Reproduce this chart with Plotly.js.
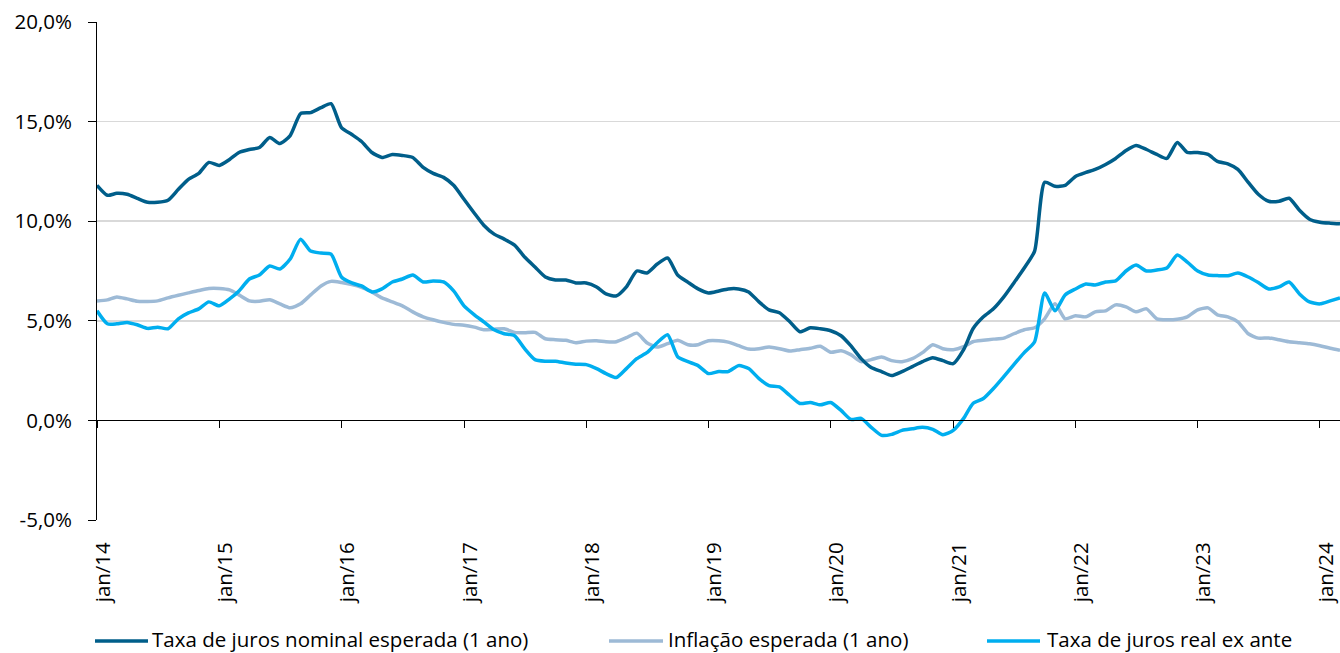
<!DOCTYPE html>
<html>
<head>
<meta charset="utf-8">
<script src="https://cdn.plot.ly/plotly-3.0.1.min.js"></script>
<style>
  html, body { margin: 0; padding: 0; background: #fff; }
  #chart { width: 1340px; height: 653px; }
</style>
</head>
<body>
<div id="chart"></div>
<script>
// ---- data (monthly, jan/14 .. mar/24) ----
const startYear = 2014;
const nMonths = 123;
const months = [];
for (let i = 0; i < nMonths; i++) {
  const y = startYear + Math.floor(i / 12);
  const m = (i % 12) + 1;
  months.push(y + '-' + String(m).padStart(2, '0') + '-01');
}

const seriesNames = [
  'Taxa de juros nominal esperada (1 ano)',
  'Inflação esperada (1 ano)',
  'Taxa de juros real ex ante'
];

const nominal = [
  11.8, 11.3, 11.4, 11.35, 11.15, 10.95, 10.95, 11.05, 11.6, 12.1, 12.4, 12.95,
  12.8, 13.1, 13.45, 13.6, 13.7, 14.2, 13.9, 14.3, 15.4, 15.45, 15.7, 15.9,
  14.7, 14.35, 14.0, 13.45, 13.2, 13.35, 13.3, 13.2, 12.7, 12.4, 12.2, 11.8,
  11.1, 10.4, 9.8, 9.35, 9.1, 8.8, 8.2, 7.7, 7.2, 7.05, 7.05, 6.9,
  6.9, 6.7, 6.35, 6.25, 6.7, 7.5, 7.4, 7.85, 8.15, 7.3, 6.93, 6.6,
  6.4, 6.5, 6.6, 6.6, 6.45, 5.95, 5.55, 5.4, 4.95, 4.45, 4.65, 4.6,
  4.5, 4.25, 3.75, 3.1, 2.65, 2.45, 2.25, 2.45, 2.7, 2.95, 3.15, 3.0,
  2.85, 3.55, 4.6, 5.2, 5.6, 6.2, 6.9, 7.65, 8.5, 11.95, 11.75, 11.8,
  12.25, 12.45, 12.6, 12.85, 13.15, 13.55, 13.8, 13.6, 13.35, 13.15, 13.95, 13.45,
  13.45, 13.35, 13.0, 12.88, 12.6, 11.95, 11.35, 11.0, 11.0, 11.15, 10.55, 10.1,
  9.95, 9.9, 9.87
];

const inflation = [
  6.0, 6.05, 6.2, 6.1, 5.98, 5.97, 6.0, 6.15, 6.28, 6.4, 6.52, 6.62,
  6.62, 6.55, 6.3, 6.0, 5.98, 6.06, 5.85, 5.65, 5.85, 6.3, 6.75, 6.98,
  6.92, 6.82, 6.68, 6.45, 6.15, 5.95, 5.75, 5.45, 5.2, 5.05, 4.92, 4.82,
  4.78, 4.68, 4.55, 4.58, 4.6, 4.42, 4.4, 4.42, 4.1, 4.05, 4.02, 3.9,
  3.98, 4.0, 3.95, 3.95, 4.15, 4.38, 3.9, 3.68, 3.85, 4.02, 3.8, 3.8,
  4.0, 4.0, 3.93, 3.75, 3.58, 3.6, 3.68, 3.6, 3.48, 3.55, 3.62, 3.72,
  3.42, 3.5, 3.3, 2.95, 3.05, 3.18, 3.0, 2.95, 3.1, 3.4, 3.8, 3.6,
  3.55, 3.7, 3.95, 4.02, 4.08, 4.13, 4.35, 4.55, 4.65, 5.1, 5.85, 5.1,
  5.25, 5.2, 5.45, 5.5, 5.8, 5.7, 5.45, 5.6, 5.1, 5.05, 5.08, 5.2,
  5.55, 5.65, 5.3, 5.2, 4.95, 4.35, 4.13, 4.14, 4.05, 3.95, 3.9, 3.85,
  3.75, 3.62, 3.52
];

const realExAnte = [
  5.5, 4.85, 4.85, 4.92, 4.8, 4.62, 4.68, 4.6, 5.1, 5.4, 5.6, 5.95,
  5.75, 6.1, 6.5, 7.1, 7.3, 7.75, 7.6, 8.1, 9.1, 8.5, 8.4, 8.35,
  7.2, 6.9, 6.75, 6.45, 6.6, 6.95, 7.1, 7.3, 6.95, 7.0, 6.95, 6.5,
  5.75, 5.3, 4.95, 4.55, 4.35, 4.25, 3.6, 3.05, 2.97, 2.97, 2.88, 2.82,
  2.8, 2.6, 2.35, 2.15, 2.6, 3.1, 3.4, 3.9, 4.3, 3.2, 2.95, 2.75,
  2.35, 2.45, 2.45, 2.75, 2.6, 2.1, 1.75, 1.68, 1.25, 0.85, 0.9, 0.78,
  0.9, 0.5, 0.05, 0.1, -0.35, -0.75, -0.7, -0.5, -0.42, -0.35, -0.45, -0.72,
  -0.5, 0.1, 0.85, 1.1, 1.6, 2.2, 2.8, 3.4, 3.95, 6.4, 5.5, 6.3,
  6.6, 6.85, 6.8, 6.95, 7.0, 7.5, 7.8, 7.5, 7.55, 7.65, 8.3, 7.95,
  7.5, 7.3, 7.27, 7.26, 7.4, 7.2, 6.92, 6.6, 6.7, 6.95, 6.35, 5.95,
  5.85, 6.0, 6.15
];

const xTickVals = ['2014-01-01','2015-01-01','2016-01-01','2017-01-01','2018-01-01','2019-01-01',
                   '2020-01-01','2021-01-01','2022-01-01','2023-01-01','2024-01-01'];
const xTickText = ['jan/14','jan/15','jan/16','jan/17','jan/18','jan/19',
                   'jan/20','jan/21','jan/22','jan/23','jan/24'];
const yTickVals = [-5, 0, 5, 10, 15, 20];
const yTickText = ['-5,0%', '0,0%', '5,0%', '10,0%', '15,0%', '20,0%'];

const colors = ['#005e8a', '#9dbad6', '#00aeef'];
const seriesData = [nominal, inflation, realExAnte];

// ---- layout constants ----
const W = 1340, H = 653;
const M = { l: 97, r: 0, t: 22, b: 133 };
const plotW = W - M.l - M.r;
const plotH = H - M.t - M.b;
const FONT = '"Open Sans", "Liberation Sans", sans-serif';
const FS = 20.5;
const px2x = p => (p - M.l) / plotW;
const py2y = p => (H - M.b - p) / plotH;

const traces = seriesData.map((d, i) => ({
  type: 'scatter',
  mode: 'lines',
  x: months,
  y: d,
  name: seriesNames[i],
  line: { color: colors[i], width: 3.5, shape: 'spline', smoothing: 0.6 },
  showlegend: false,
  hoverinfo: 'skip'
}));
// drawing order: inflation, real, nominal
const ordered = [traces[1], traces[2], traces[0]];

// legend (manual, to match swatch length and positions)
const legendItems = [
  { sw: [95, 148], tx: 152 },
  { sw: [609, 663], tx: 668 },
  { sw: [987, 1040], tx: 1047 }
];
const legendLineY = 641;
const legendTextY = 638.5;
const shapes = [];
const annotations = [];
legendItems.forEach((it, i) => {
  shapes.push({
    type: 'line', xref: 'paper', yref: 'paper',
    x0: px2x(it.sw[0]), x1: px2x(it.sw[1]),
    y0: py2y(legendLineY), y1: py2y(legendLineY),
    line: { color: colors[i], width: 3.5 }
  });
  annotations.push({
    xref: 'paper', yref: 'paper',
    x: px2x(it.tx - 1), y: py2y(legendTextY),
    xanchor: 'left', yanchor: 'middle',
    text: seriesNames[i], showarrow: false,
    borderpad: 0,
    font: { family: FONT, size: FS, color: '#000' }
  });
});

const xRange = [months[0], months[nMonths - 1]];

const layout = {
  width: W, height: H,
  margin: M,
  paper_bgcolor: '#fff', plot_bgcolor: '#fff',
  font: { family: FONT, size: FS, color: '#000' },
  showlegend: false,
  xaxis: {
    type: 'date',
    range: xRange,
    tickvals: xTickVals,
    ticktext: xTickText,
    tickangle: -90,
    ticks: 'outside', ticklen: 0, tickcolor: 'rgba(0,0,0,0)',
    ticklabelstandoff: 13,
    ticklabelshift: 6,
    showline: false, showgrid: false, zeroline: false,
    tickfont: { family: FONT, size: FS, color: '#000' },
    fixedrange: true
  },
  xaxis2: {
    type: 'date',
    overlaying: 'x',
    anchor: 'free',
    position: 0.2,
    range: xRange,
    tickvals: xTickVals,
    ticks: 'outside', ticklen: 7, tickcolor: '#000', tickwidth: 1,
    showticklabels: false,
    showline: true, linecolor: '#000', linewidth: 1,
    showgrid: false, zeroline: false,
    fixedrange: true
  },
  yaxis: {
    range: [-5, 20],
    tickvals: yTickVals,
    ticktext: yTickText,
    ticks: 'outside', ticklen: 8, tickcolor: '#000', tickwidth: 1,
    ticklabelstandoff: 12,
    showline: true, linecolor: '#000', linewidth: 1,
    showgrid: true, gridcolor: '#d9d9d9', gridwidth: 1.5,
    zeroline: true, zerolinecolor: '#000', zerolinewidth: 1,
    tickfont: { family: FONT, size: FS, color: '#000' },
    fixedrange: true
  },
  shapes: shapes,
  annotations: annotations
};

// invisible helper trace so xaxis2 is laid out
const axisHelper = {
  type: 'scatter', mode: 'lines', x: [months[0], months[nMonths - 1]], y: [null, null],
  xaxis: 'x2', yaxis: 'y', showlegend: false, hoverinfo: 'skip',
  line: { width: 0 }
};

Plotly.newPlot('chart', [axisHelper].concat(ordered), layout, { staticPlot: true, displayModeBar: false });
</script>
</body>
</html>
